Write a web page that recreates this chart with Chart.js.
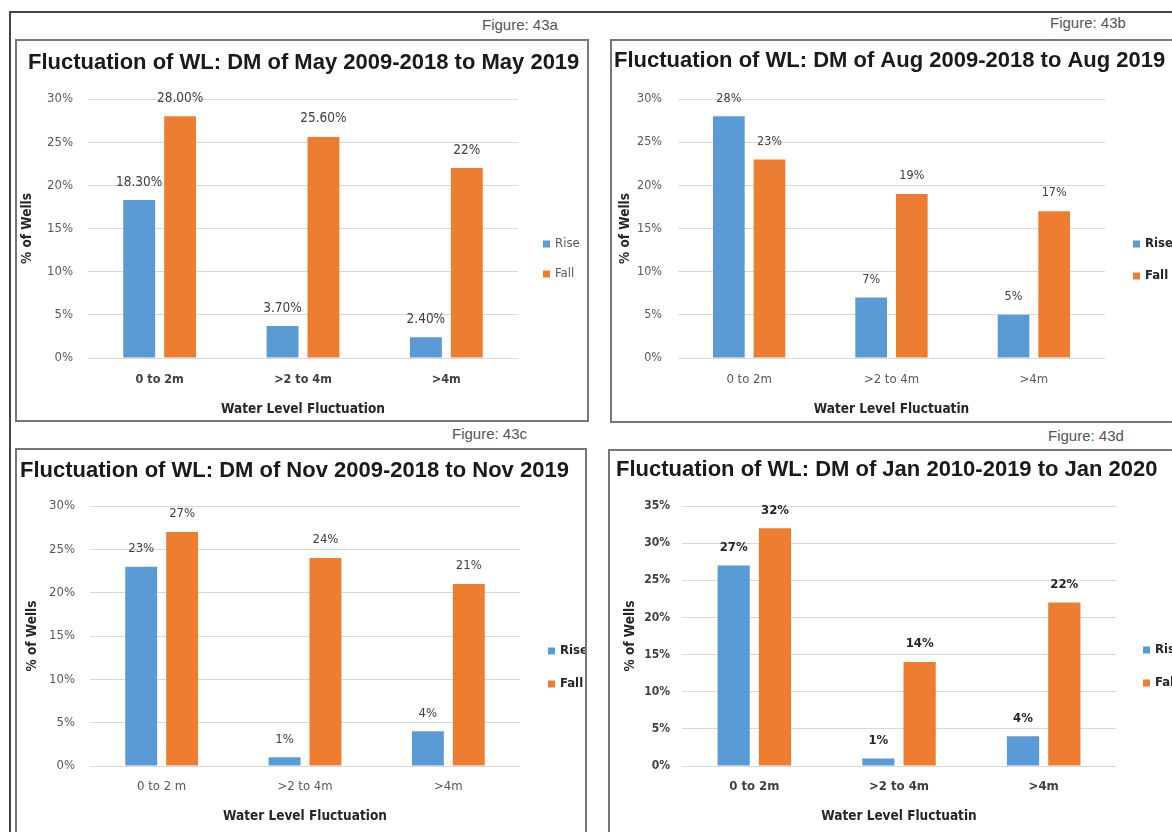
<!DOCTYPE html>
<html><head><meta charset="utf-8">
<script src="https://cdn.jsdelivr.net/npm/chart.js@4.4.1/dist/chart.umd.min.js"></script>
<style>
html,body{margin:0;padding:0;background:#fff;}
body{width:1172px;height:832px;overflow:hidden;position:relative;}
.frameTop{position:absolute;left:9px;top:11px;width:1200px;height:2px;background:#444;}
.frameLeft{position:absolute;left:9px;top:11px;width:2px;height:900px;background:#444;}
.fig{position:absolute;font:15px "Liberation Sans",Arial,sans-serif;color:#555;white-space:nowrap;line-height:15px;}
.panel{position:absolute;border:2px solid #777;box-sizing:content-box;background:#fff;}
.panel canvas{display:block;}
</style></head><body>
<div class="frameTop"></div>
<div class="frameLeft"></div>
<div class="fig" style="left:482px;top:17px;">Figure: 43a</div>
<div class="fig" style="left:1050px;top:15px;">Figure: 43b</div>
<div class="fig" style="left:452px;top:426px;">Figure: 43c</div>
<div class="fig" style="left:1048px;top:428px;">Figure: 43d</div>
<div class="panel" id="pa"><canvas id="ca"></canvas></div>
<div class="panel" id="pb"><canvas id="cb"></canvas></div>
<div class="panel" id="pc"><canvas id="cc"></canvas></div>
<div class="panel" id="pd"><canvas id="cd"></canvas></div>
<script>
// ---------- data ----------
const seriesNames = ['Rise', 'Fall'];

const titleA = 'Fluctuation of WL: DM of May 2009-2018 to May 2019';
const categoriesA = ['0 to 2m', '>2 to 4m', '>4m'];
const riseA = [18.3, 3.7, 2.4];
const fallA = [28, 25.6, 22];
const riseLabelsA = ['18.30%', '3.70%', '2.40%'];
const fallLabelsA = ['28.00%', '25.60%', '22%'];
const xTitleA = 'Water Level Fluctuation';

const titleB = 'Fluctuation of WL: DM of Aug 2009-2018 to Aug 2019';
const categoriesB = ['0 to 2m', '>2 to 4m', '>4m'];
const riseB = [28, 7, 5];
const fallB = [23, 19, 17];
const xTitleB = 'Water Level Fluctuatin';

const titleC = 'Fluctuation of WL: DM of Nov 2009-2018 to Nov 2019';
const categoriesC = ['0 to 2 m', '>2 to 4m', '>4m'];
const riseC = [23, 1, 4];
const fallC = [27, 24, 21];
const xTitleC = 'Water Level Fluctuation';

const titleD = 'Fluctuation of WL: DM of Jan 2010-2019 to Jan 2020';
const categoriesD = ['0 to 2m', '>2 to 4m', '>4m'];
const riseD = [27, 1, 4];
const fallD = [32, 14, 22];
const xTitleD = 'Water Level Fluctuatin';

const yTitle = '% of Wells';
const yMaxABC = 30;
const yMaxD = 35;
const yStep = 5;
const pct = v => v + '%';

// ---------- style ----------
const BLUE = '#5B9BD5', ORANGE = '#ED7D31';
const NARROW = '"Liberation Sans Narrow", "DejaVu Sans Condensed", sans-serif';
const ARIAL = '"Liberation Sans", Arial, sans-serif';

const barValueLabels = {
  id: 'barValueLabels',
  afterDatasetsDraw(chart, args, opts) {
    const ctx = chart.ctx;
    ctx.save();
    ctx.font = opts.font;
    ctx.fillStyle = opts.color;
    ctx.textAlign = 'center';
    ctx.textBaseline = 'middle';
    chart.data.datasets.forEach((ds, i) => {
      const meta = chart.getDatasetMeta(i);
      meta.data.forEach((bar, j) => {
        ctx.fillText(ds.valueLabels[j], bar.x, bar.y - opts.offset);
      });
    });
    ctx.restore();
  }
};
const sideLegend = {
  id: 'sideLegend',
  afterDraw(chart, args, opts) {
    const ctx = chart.ctx, a = chart.chartArea;
    ctx.save();
    ctx.font = opts.font;
    ctx.textAlign = 'left';
    ctx.textBaseline = 'middle';
    chart.data.datasets.forEach((ds, i) => {
      const y = opts.y0 + i * opts.dy;
      const x = a.right + opts.dx;
      ctx.fillStyle = ds.backgroundColor;
      ctx.fillRect(x, y - opts.box / 2, opts.box, opts.box);
      ctx.fillStyle = opts.color;
      ctx.fillText(ds.label, x + opts.box + opts.gap, y);
    });
    ctx.restore();
  }
};

function makeChart(panelId, canvasId, g, d) {
  const panel = document.getElementById(panelId);
  panel.style.left = (g.ox - 2) + 'px';
  panel.style.top = (g.oy - 2) + 'px';
  panel.style.width = g.W + 'px';
  panel.style.height = g.H + 'px';
  const cv = document.getElementById(canvasId);
  cv.width = g.W; cv.height = g.H;
  cv.style.width = g.W + 'px'; cv.style.height = g.H + 'px';
  return new Chart(cv, {
    type: 'bar',
    data: {
      labels: d.categories,
      datasets: [
        { label: seriesNames[0], data: d.rise, valueLabels: d.riseLabels, backgroundColor: BLUE,
          categoryPercentage: 0.571, barPercentage: 0.78 },
        { label: seriesNames[1], data: d.fall, valueLabels: d.fallLabels, backgroundColor: ORANGE,
          categoryPercentage: 0.571, barPercentage: 0.78 }
      ]
    },
    options: {
      responsive: false,
      animation: false,
      devicePixelRatio: 1,
      layout: { padding: { left: g.pl, right: 0, top: 0, bottom: 0 } },
      plugins: {
        legend: { display: false },
        tooltip: { enabled: false },
        title: {
          display: true, text: d.title, align: 'start', color: '#1a1a1a',
          font: { family: ARIAL, size: 22, weight: 'bold', lineHeight: 1.2 },
          padding: { top: g.tPadT, bottom: g.tPadB }
        },
        barValueLabels: { font: g.valFont, color: g.valColor, offset: 18 },
        sideLegend: { font: g.legFont, color: g.legColor, dx: g.legDx, y0: g.legY0, dy: g.legDy, box: 7, gap: 5 }
      },
      scales: {
        x: {
          grid: { display: false, drawTicks: false },
          border: { display: false },
          ticks: { font: g.xTickFont, color: g.xTickColor, padding: g.xTickPad, maxRotation: 0 },
          title: { display: true, text: d.xTitle, color: '#262626',
                   font: { family: NARROW, size: 13.5, weight: 'bold' }, padding: { top: 0, bottom: g.xTitlePadB } },
          afterFit: s => { s.height = g.H - g.plotBottom; }
        },
        y: {
          min: 0, max: d.yMax,
          ticks: { stepSize: yStep, callback: pct, font: g.yTickFont, color: g.yTickColor, padding: g.yTickPad },
          grid: { color: '#d9d9d9', drawTicks: false, lineWidth: 1 },
          border: { display: false },
          title: { display: true, text: yTitle, color: '#262626',
                   font: { family: NARROW, size: 13.5, weight: 'bold' }, padding: { top: g.yTitlePadT, bottom: 0 } },
          afterFit: s => { s.width = g.plotLeft - g.pl; }
        },
        legendSpace: {
          type: 'linear', position: 'right', display: true,
          ticks: { display: false }, grid: { display: false, drawTicks: false }, border: { display: false },
          afterFit: s => { s.width = g.pr; }
        }
      }
    },
    plugins: [barValueLabels, sideLegend]
  });
}

const fN = (s, w) => ({ family: NARROW, size: s, weight: w || 'normal' });
const cssN = (s, w) => (w === 'bold' ? 'bold ' : '') + s + 'px ' + NARROW;

makeChart('pa', 'ca', {
  ox: 17, oy: 41, W: 570, H: 379, pl: 11, pr: 69, plotLeft: 71, plotBottom: 317,
  tPadT: 8.3, tPadB: 23.3, yTitlePadT: -9.1, yTickPad: 15, xTickPad: 14.5, xTitlePadB: 2.9,
  yTickFont: fN(13), yTickColor: '#595959', xTickFont: fN(12.5, 'bold'), xTickColor: '#404040',
  valFont: cssN(13.5), valColor: '#404040', legFont: cssN(13), legColor: '#595959', legDx: 25, legY0: 203, legDy: 30
}, { title: titleA, categories: categoriesA, rise: riseA, fall: fallA, riseLabels: riseLabelsA, fallLabels: fallLabelsA, xTitle: xTitleA, yMax: yMaxABC });

makeChart('pb', 'cb', {
  ox: 612, oy: 41, W: 570, H: 380, pl: 2, pr: 77, plotLeft: 66, plotBottom: 317,
  tPadT: 6.8, tPadB: 24.8, yTitlePadT: 2.9, yTickPad: 16, xTickPad: 14.2, xTitlePadB: 3.9,
  yTickFont: fN(12.5), yTickColor: '#595959', xTickFont: fN(13), xTickColor: '#595959',
  valFont: cssN(12.5), valColor: '#404040', legFont: cssN(13, 'bold'), legColor: '#262626', legDx: 28, legY0: 203, legDy: 32
}, { title: titleB, categories: categoriesB, rise: riseB, fall: fallB, riseLabels: riseB.map(pct), fallLabels: fallB.map(pct), xTitle: xTitleB, yMax: yMaxABC });

makeChart('pc', 'cc', {
  ox: 17, oy: 450, W: 568, H: 382, pl: 3, pr: 65, plotLeft: 73, plotBottom: 316,
  tPadT: 7.8, tPadB: 21.8, yTitlePadT: 3.9, yTickPad: 15, xTickPad: 13.2, xTitlePadB: 7.9,
  yTickFont: fN(13), yTickColor: '#595959', xTickFont: fN(13), xTickColor: '#595959',
  valFont: cssN(13), valColor: '#404040', legFont: cssN(13, 'bold'), legColor: '#262626', legDx: 28, legY0: 201, legDy: 33
}, { title: titleC, categories: categoriesC, rise: riseC, fall: fallC, riseLabels: riseC.map(pct), fallLabels: fallC.map(pct), xTitle: xTitleC, yMax: yMaxABC });

makeChart('pd', 'cd', {
  ox: 610, oy: 451, W: 570, H: 381, pl: 6, pr: 64, plotLeft: 72, plotBottom: 315,
  tPadT: 5.8, tPadB: 22.8, yTitlePadT: 5.9, yTickPad: 12, xTickPad: 13.2, xTitlePadB: 7.9,
  yTickFont: fN(12, 'bold'), yTickColor: '#404040', xTickFont: fN(13, 'bold'), xTickColor: '#404040',
  valFont: cssN(13, 'bold'), valColor: '#262626', legFont: cssN(13, 'bold'), legColor: '#262626', legDx: 27, legY0: 199, legDy: 33
}, { title: titleD, categories: categoriesD, rise: riseD, fall: fallD, riseLabels: riseD.map(pct), fallLabels: fallD.map(pct), xTitle: xTitleD, yMax: yMaxD });
</script>
</body></html>
